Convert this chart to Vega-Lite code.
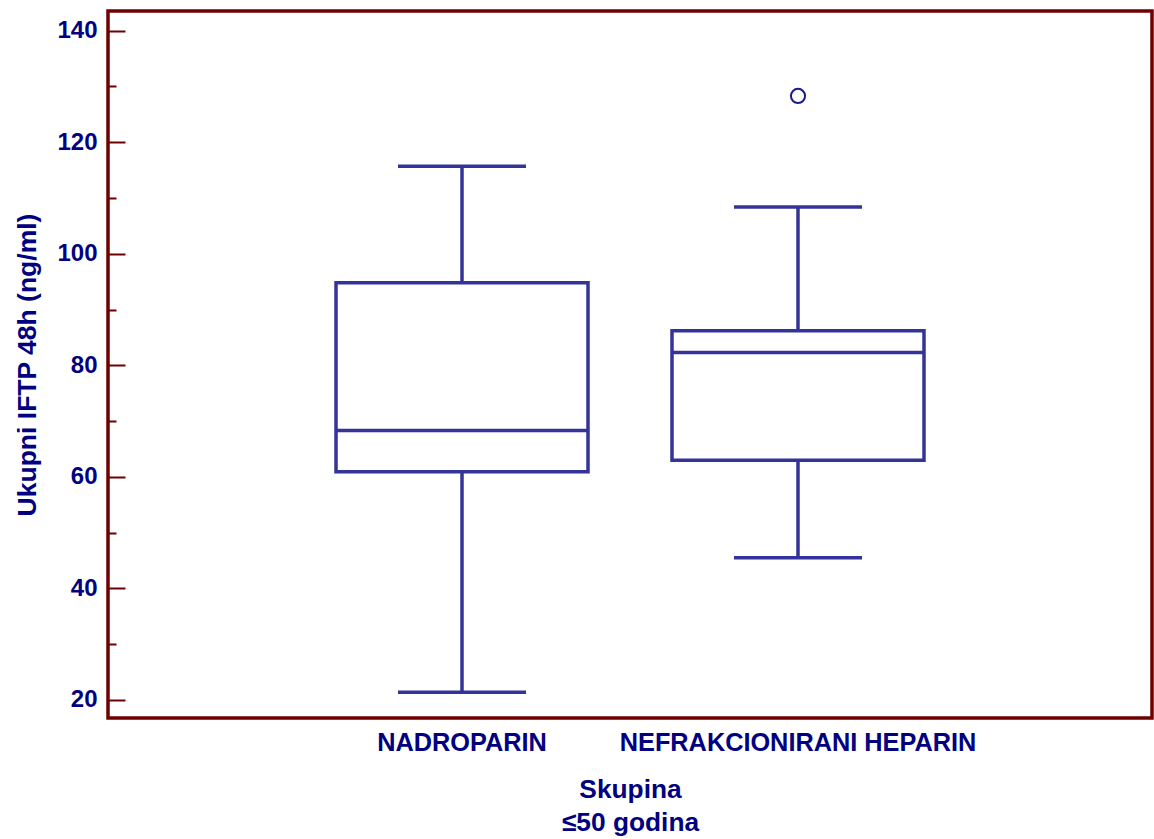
{
  "$schema": "https://vega.github.io/schema/vega-lite/v6.json",
  "width": 1044,
  "height": 707,
  "autosize": {"type": "none"},
  "padding": {"left": 108, "top": 11, "right": 2, "bottom": 121},
  "background": "white",
  "config": {
    "view": {"stroke": "#6e0000", "strokeWidth": 3.5},
    "font": "Liberation Sans"
  },
  "datasets": {
    "box": [
      {"group": "NADROPARIN", "low": 21.4, "q1": 60.9, "median": 68.3, "q3": 94.8, "high": 115.7},
      {"group": "NEFRAKCIONIRANI HEPARIN", "low": 45.5, "q1": 63.0, "median": 82.3, "q3": 86.2, "high": 108.4}
    ],
    "out": [
      {"group": "NEFRAKCIONIRANI HEPARIN", "value": 128.3}
    ]
  },
  "encoding": {
    "x": {
      "field": "group",
      "type": "nominal",
      "sort": ["NADROPARIN", "NEFRAKCIONIRANI HEPARIN"],
      "scale": {"type": "band", "paddingInner": 0.5, "paddingOuter": 0.8036},
      "axis": {
        "labelAngle": 0,
        "labelLimit": 0,
        "ticks": false,
        "domain": false,
        "labelFont": "Liberation Sans",
        "labelFontWeight": "bold",
        "labelFontSize": 25.3,
        "labelColor": "#000080",
        "labelPadding": 12,
        "title": ["Skupina", "≤50 godina"],
        "titleFont": "Liberation Sans",
        "titleFontWeight": "bold",
        "titleFontSize": 26.3,
        "titleColor": "#000080",
        "titleLineHeight": 33,
        "titlePadding": 21
      }
    }
  },
  "layer": [
    {
      "data": {"name": "box"},
      "mark": {"type": "rule", "color": "#333399", "strokeWidth": 3.5},
      "encoding": {
        "y": {
          "field": "low",
          "type": "quantitative",
          "title": "Ukupni IFTP 48h (ng/ml)",
          "scale": {"domain": [16.77, 143.53], "nice": false, "zero": false},
          "axis": {
            "values": [20, 30, 40, 50, 60, 70, 80, 90, 100, 110, 120, 130, 140],
            "labelExpr": "datum.value % 20 === 0 ? datum.label : ''",
            "tickSize": {"condition": {"test": "datum.value % 20 === 0", "value": -17}, "value": -8},
            "tickColor": "#6e0000",
            "tickWidth": 2,
            "domain": false,
            "grid": false,
            "labelFont": "Liberation Sans",
            "labelFontWeight": "bold",
            "labelFontSize": 24,
            "labelColor": "#000080",
            "labelPadding": 28,
            "titleFont": "Liberation Sans",
            "titleFontWeight": "bold",
            "titleFontSize": 26.5,
            "titleColor": "#000080",
            "titlePadding": 15
          }
        },
        "y2": {"field": "q1"}
      }
    },
    {
      "data": {"name": "box"},
      "mark": {"type": "rule", "color": "#333399", "strokeWidth": 3.5},
      "encoding": {
        "y": {"field": "q3", "type": "quantitative", "title": "Ukupni IFTP 48h (ng/ml)"},
        "y2": {"field": "high"}
      }
    },
    {
      "data": {"name": "box"},
      "mark": {"type": "tick", "color": "#333399", "size": 128, "thickness": 3.5, "opacity": 1},
      "encoding": {
        "y": {"field": "low", "type": "quantitative", "title": "Ukupni IFTP 48h (ng/ml)"}
      }
    },
    {
      "data": {"name": "box"},
      "mark": {"type": "tick", "color": "#333399", "size": 128, "thickness": 3.5, "opacity": 1},
      "encoding": {
        "y": {"field": "high", "type": "quantitative", "title": "Ukupni IFTP 48h (ng/ml)"}
      }
    },
    {
      "data": {"name": "box"},
      "mark": {"type": "bar", "size": 252, "fill": "white", "stroke": "#333399", "strokeWidth": 3.5},
      "encoding": {
        "y": {"field": "q1", "type": "quantitative", "title": "Ukupni IFTP 48h (ng/ml)"},
        "y2": {"field": "q3"}
      }
    },
    {
      "data": {"name": "box"},
      "mark": {"type": "tick", "color": "#333399", "size": 252, "thickness": 3.5, "opacity": 1},
      "encoding": {
        "y": {"field": "median", "type": "quantitative", "title": "Ukupni IFTP 48h (ng/ml)"}
      }
    },
    {
      "data": {"name": "out"},
      "mark": {"type": "point", "shape": "circle", "filled": false, "color": "#1a1a8c", "size": 200, "strokeWidth": 2, "opacity": 1},
      "encoding": {
        "y": {"field": "value", "type": "quantitative", "title": "Ukupni IFTP 48h (ng/ml)"}
      }
    }
  ]
}
